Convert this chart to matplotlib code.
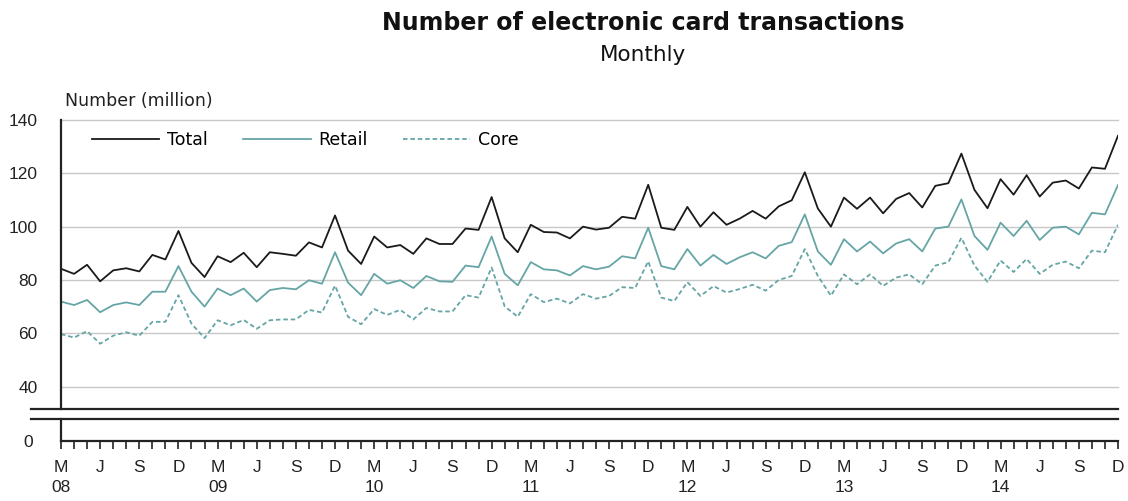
import matplotlib
matplotlib.use("Agg")
import matplotlib.pyplot as plt
from matplotlib.lines import Line2D
from matplotlib.ticker import FixedLocator, FixedFormatter

plt.rcParams['font.family'] = ['Liberation Sans', 'DejaVu Sans']

# Monthly data, March 2008 .. December 2014
total = [84.2, 82.3, 85.7, 79.5, 83.6, 84.4, 83.2, 89.4, 87.7, 98.4,
         86.4, 81.1, 88.9, 86.7, 90.2, 84.8, 90.4, 89.8, 89.1, 94.1, 92.2, 104.2,
         91.0, 86.0, 96.3, 92.2, 93.1, 89.8, 95.6, 93.5, 93.5, 99.3, 98.8, 111.1,
         95.6, 90.4, 100.7, 98.0, 97.8, 95.6, 100.0, 98.9, 99.6, 103.7, 103.0, 115.7,
         99.6, 98.8, 107.4, 100.0, 105.4, 100.7, 103.0, 105.9, 103.0, 107.6, 109.9, 120.4,
         106.8, 100.0, 110.9, 106.7, 110.9, 105.0, 110.4, 112.6, 107.2, 115.3, 116.3, 127.4,
         113.8, 106.9, 117.8, 112.0, 119.3, 111.3, 116.5, 117.3, 114.3, 122.2, 121.7, 134.1]
retail = [71.9, 70.6, 72.5, 67.9, 70.6, 71.6, 70.6, 75.6, 75.6, 85.2,
          75.6, 70.0, 76.8, 74.3, 76.8, 71.9, 76.2, 77.0, 76.5, 79.9, 78.6, 90.4,
          79.0, 74.3, 82.3, 78.6, 79.9, 77.0, 81.5, 79.5, 79.3, 85.4, 84.8, 96.3,
          82.3, 78.0, 86.7, 84.0, 83.6, 81.7, 85.2, 84.0, 85.0, 88.9, 88.1, 99.6,
          85.2, 84.0, 91.6, 85.4, 89.4, 86.0, 88.5, 90.4, 88.1, 92.8, 94.2, 104.6,
          90.7, 85.7, 95.3, 90.7, 94.4, 90.0, 93.7, 95.3, 90.7, 99.3, 100.0, 110.2,
          96.5, 91.3, 101.5, 96.5, 102.2, 95.0, 99.6, 100.0, 97.1, 105.2, 104.6, 115.6]
core = [59.7, 58.4, 60.8, 56.1, 59.1, 60.4, 59.1, 64.3, 64.3, 74.3,
        63.6, 58.2, 64.9, 63.0, 65.0, 61.7, 64.9, 65.2, 65.2, 68.8, 67.8, 77.9,
        66.2, 63.4, 69.1, 66.9, 68.8, 65.2, 69.5, 68.2, 68.2, 74.3, 73.4, 84.7,
        70.1, 66.2, 74.7, 71.7, 73.0, 71.2, 74.7, 73.0, 74.0, 77.3, 77.0, 87.0,
        73.4, 72.1, 79.2, 74.0, 77.7, 75.3, 76.6, 78.2, 76.0, 80.0, 81.5, 91.6,
        81.5, 74.1, 82.1, 78.4, 82.1, 77.8, 80.9, 82.1, 78.4, 85.4, 86.7, 95.8,
        85.4, 79.3, 87.3, 83.0, 87.9, 82.3, 85.7, 86.9, 84.4, 91.0, 90.4, 100.7]

month_letters = ['M', 'J', 'S', 'D']
years = ['08', '09', '10', '11', '12', '13', '14']
y_ticks = [40, 60, 80, 100, 120, 140]

x = list(range(len(total)))

W, H = 1128, 501
fig = plt.figure(figsize=(W / 100, H / 100), dpi=100)

left = 61 / W
right = 1118 / W
ax = fig.add_axes([left, (H - 409.3) / H, right - left, (409.3 - 120) / H])
axb = fig.add_axes([left, (H - 441) / H, right - left, (441 - 419.3) / H])

teal = '#66a5a5'
ax.plot(x, total, color='#1a1a1a', lw=1.3, label='Total')
ax.plot(x, retail, color=teal, lw=1.3, label='Retail')
ax.plot(x, core, color=teal, lw=1.3, ls=(0, (2.5, 1.6)), label='Core')

ax.set_xlim(0, len(total) - 1)
ax.set_ylim(31.5, 140)
ax.set_yticks(y_ticks)
ax.set_yticklabels([str(v) for v in y_ticks])
for v in y_ticks:
    ax.axhline(v, color='#c8c8c8', lw=1.0, zorder=0, clip_on=False)
ax.tick_params(axis='y', length=0, pad=17, labelsize=12.5, colors='#222222')
ax.tick_params(axis='x', length=0, labelbottom=False)
for s in ['top', 'right', 'bottom']:
    ax.spines[s].set_visible(False)
ax.spines['left'].set_linewidth(1.6)
ax.spines['left'].set_color('#222222')

ax.legend(loc='center left', bbox_to_anchor=(0.029, 0.931), ncol=3, frameon=False,
          prop={'family': 'DejaVu Sans', 'size': 12.5},
          handlelength=3.9, handletextpad=0.46, columnspacing=2.0,
          borderpad=0, borderaxespad=0)

# bottom (broken) axis
axb.set_xlim(0, len(total) - 1)
axb.set_ylim(0, 8)
axb.set_yticks([0])
axb.set_yticklabels(['0'])
axb.tick_params(axis='y', length=0, pad=20, labelsize=12.5, colors='#222222')
for s in ['top', 'right']:
    axb.spines[s].set_visible(False)
axb.spines['left'].set_linewidth(1.6)
axb.spines['bottom'].set_linewidth(1.6)
axb.spines['left'].set_color('#222222')
axb.spines['bottom'].set_color('#222222')

major_pos = []
major_lab = []
for i in range(0, len(total), 3):
    m = month_letters[(i // 3) % 4]
    if m == 'M':
        major_lab.append('M\n' + years[(i + 2) // 12])
    else:
        major_lab.append(m)
    major_pos.append(i)
axb.xaxis.set_major_locator(FixedLocator(major_pos))
axb.xaxis.set_major_formatter(FixedFormatter(major_lab))
axb.xaxis.set_minor_locator(FixedLocator(x))
axb.tick_params(axis='x', which='both', direction='out', length=6, width=1.2,
                color='#222222', labelsize=12.5, pad=8, labelcolor='#222222')
for t in axb.get_xticklabels():
    t.set_linespacing(1.4)

# break lines
for yy in (409.3, 419.3):
    fig.add_artist(Line2D([31 / W, 1118 / W], [(H - yy) / H] * 2,
                          color='#222222', lw=1.6))

fig.text(643 / W, 1 - 23 / H, 'Number of electronic card transactions',
         ha='center', va='center', fontsize=17, fontweight='bold', color='#111111',
         family='DejaVu Sans')
fig.text(643 / W, 1 - 55 / H, 'Monthly', ha='center', va='center',
         fontsize=15.5, color='#111111', family='DejaVu Sans')
fig.text(65 / W, 1 - 101 / H, 'Number (million)', ha='left', va='center',
         fontsize=12.5, color='#222222', family='DejaVu Sans')

fig.savefig('out.png', dpi=100)
